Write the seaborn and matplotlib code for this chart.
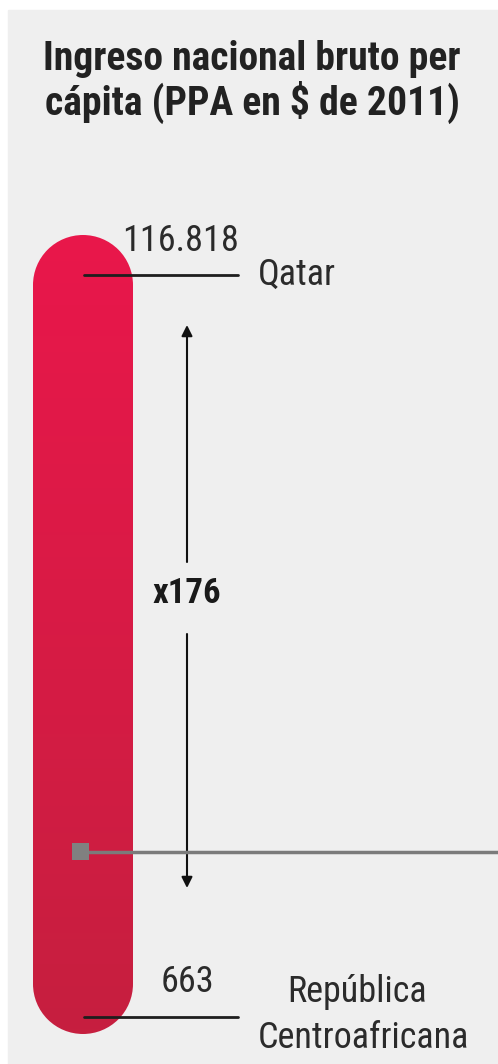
import numpy as np
import matplotlib
matplotlib.use('Agg')
import matplotlib.pyplot as plt
from matplotlib.patches import PathPatch, Rectangle
from matplotlib.path import Path
import seaborn as sns

title = 'Ingreso nacional bruto per\ncápita (PPA en $ de 2011)'
countries = ['Qatar', 'República\nCentroafricana']
income = [116818, 663]
marker_income = 26500

sns.set_theme(style='white')
plt.rcParams['font.family'] = ['Roboto Condensed', 'DejaVu Sans']

W, H = 498, 1064
fig = plt.figure(figsize=(W / 100, H / 100), dpi=100)
fig.patch.set_facecolor('white')
ax = fig.add_axes([0, 0, 1, 1])
ax.set_facecolor('none')

# pixel rows where the top and bottom values sit
p_top, p_bot = 275, 1017
per_px = (income[0] - income[1]) / (p_bot - p_top)
xlim = (0, W)
ylim = (income[1] - (H - p_bot) * per_px, income[0] + p_top * per_px)


def v(p):
    return income[0] + (p_top - p) * per_px


ax.add_patch(Rectangle((8, v(H)), W, v(10) - v(H), color='#efefef', zorder=0))

# capsule bar with vertical gradient
x0, x1 = 33, 133
y0, y1 = income[1] - 17 * per_px, income[0] + 40 * per_px
r = (x1 - x0) / 2
cx = (x0 + x1) / 2
top = Path.arc(0, 180)
bot = Path.arc(180, 360)
verts = np.vstack([
    top.vertices * [r, r * per_px] + [cx, y1 - r * per_px],
    bot.vertices * [r, r * per_px] + [cx, y0 + r * per_px],
    [[0, 0]],
])
verts[-1] = verts[0]
codes = np.concatenate([top.codes, [Path.LINETO], bot.codes[1:], [Path.CLOSEPOLY]])
capsule = PathPatch(Path(verts, codes), facecolor='none', edgecolor='none', zorder=2)
ax.add_patch(capsule)
grad = np.linspace(0, 1, 256).reshape(-1, 1)
cmap = matplotlib.colors.LinearSegmentedColormap.from_list('bar', ['#c61f3f', '#e9174b'])
img = ax.imshow(grad, cmap=cmap, extent=(x0, x1, y0, y1), origin='lower',
                aspect='auto', zorder=2, interpolation='bilinear')
img.set_clip_path(capsule)

# leader lines and labels
for val in income:
    ax.plot([84, 238], [val, val], color='#1e1e1e', lw=2, zorder=3)

txt = dict(fontsize=26, color='#2b2b2b', va='baseline')
ax.annotate(f'{income[0]:,}'.replace(',', '.'), (181, income[0]), xytext=(0, 24),
            textcoords='offset pixels', ha='center', **txt)
ax.annotate(countries[0], (258, income[0]), xytext=(0, -10),
            textcoords='offset pixels', ha='left', **txt)
ax.annotate(f'{income[1]:,}'.replace(',', '.'), (187, income[1]), xytext=(0, 25),
            textcoords='offset pixels', ha='center', **txt)
line1, line2 = countries[1].split('\n')
ax.annotate(line1, (357, income[1]), xytext=(0, 15), textcoords='offset pixels',
            ha='center', **txt)
ax.annotate(line2, (363, income[1]), xytext=(0, -31), textcoords='offset pixels',
            ha='center', **txt)

# ratio arrows
ratio = round(income[0] / income[1])
ax.annotate('', xy=(187, v(325)), xytext=(187, v(562)),
            arrowprops=dict(arrowstyle='-|>', color='#111111', lw=1.5, mutation_scale=16,
                            shrinkA=0, shrinkB=0))
ax.annotate('', xy=(187, v(888)), xytext=(187, v(634)),
            arrowprops=dict(arrowstyle='-|>', color='#111111', lw=1.5, mutation_scale=16,
                            shrinkA=0, shrinkB=0))
ax.text(187, v(603), f'x{ratio}', ha='center', va='baseline', fontsize=25,
        fontweight='bold', color='#1a1a1a')

# reference marker
ax.plot([80, W], [marker_income, marker_income], color='#7b7b7b', lw=2.5, zorder=3)
sns.scatterplot(x=[80.5], y=[marker_income], marker='s', s=150, color='#808080',
                edgecolor='none', ax=ax, zorder=4)
ax.set_xlim(*xlim)
ax.set_ylim(*ylim)
ax.axis('off')

fig.text(252 / W, 1 - 82 / H, title, ha='center', va='center', fontsize=28.5,
         fontweight='bold', color='#222222', linespacing=1.08)

fig.savefig('out.png', dpi=100)
